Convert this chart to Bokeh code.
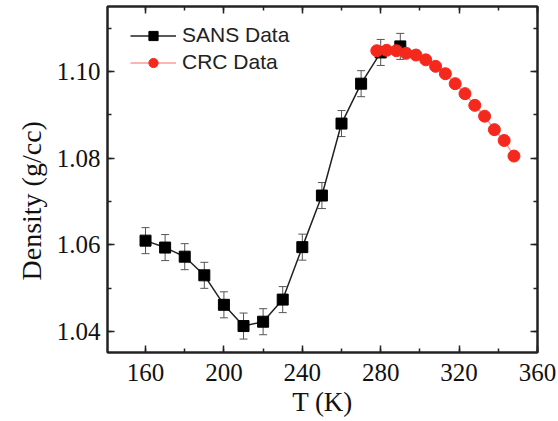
from bokeh.plotting import figure
from bokeh.models import (Range1d, SingleIntervalTicker, NumeralTickFormatter, LinearAxis,
                          Whisker, ColumnDataSource, TeeHead, Legend, Title,
                          CustomLabelingPolicy)
from bokeh.embed import file_html
from bokeh.resources import INLINE

# SANS data
sans_T = [160, 170, 180, 190, 200, 210, 220, 230, 240, 250, 260, 270, 280, 290]
sans_rho = [1.0610, 1.0594, 1.0573, 1.0530, 1.0462, 1.0413, 1.0423, 1.0474, 1.0595,
            1.0714, 1.0880, 1.0972, 1.1044, 1.1058]
sans_err = [0.0030] * 14

# CRC data
crc_T = [278, 283, 288, 293, 298, 303, 308, 313, 318, 323, 328, 333, 338, 343, 348]
crc_rho = [1.1048, 1.1049, 1.1048, 1.1042, 1.1038, 1.1027, 1.1012, 1.0995, 1.0972,
           1.0949, 1.0922, 1.0897, 1.0866, 1.0841, 1.0805]

x_label = "T (K)"
y_label = "Density (g/cc)"

SERIF = "Liberation Serif"
SANS = "Liberation Sans"
RED = "#f5281e"
AX = "#222222"

W, H = 558, 421
p = figure(width=W, height=H, output_backend="svg", toolbar_location=None,
           x_range=Range1d(140.6, 360), y_range=Range1d(1.0352, 1.115),
           min_border_left=107, min_border_right=21, min_border_top=6,
           min_border_bottom=69)
p.grid.visible = False
p.background_fill_color = "white"
p.border_fill_color = "white"
p.outline_line_color = AX
p.outline_line_width = 2

p.xaxis.ticker = SingleIntervalTicker(interval=40, num_minor_ticks=2)
p.yaxis.ticker = SingleIntervalTicker(interval=0.02, num_minor_ticks=2)
p.yaxis.formatter = NumeralTickFormatter(format="0.00")


def style_axis(ax):
    ax.axis_line_width = 2
    ax.axis_line_color = AX
    ax.major_tick_in = 7
    ax.major_tick_out = 0
    ax.minor_tick_in = 4
    ax.minor_tick_out = 0
    ax.major_tick_line_width = 1.5
    ax.minor_tick_line_width = 1.5
    ax.major_tick_line_color = AX
    ax.minor_tick_line_color = AX


for ax in [p.xaxis[0], p.yaxis[0]]:
    style_axis(ax)
    ax.major_label_text_font = SERIF
    ax.major_label_text_font_size = "25px"
    ax.major_label_text_color = "#111111"

p.xaxis.major_label_standoff = 11
p.yaxis.major_label_standoff = 7

p.xaxis.axis_label = x_label
p.xaxis.axis_label_text_font = SERIF
p.xaxis.axis_label_text_font_size = "27px"
p.xaxis.axis_label_text_font_style = "normal"
p.xaxis.axis_label_text_color = "#111111"
p.xaxis.axis_label_standoff = 3


# mirrored axes (ticks only)
def hide_all():
    return CustomLabelingPolicy(code="for (const i of indices) { indices.unset(i) } return indices")


top = LinearAxis(ticker=SingleIntervalTicker(interval=40, num_minor_ticks=2),
                 major_label_policy=hide_all(), major_label_standoff=0,
                 major_label_text_font_size="1px")
right = LinearAxis(ticker=SingleIntervalTicker(interval=0.02, num_minor_ticks=2),
                   major_label_policy=hide_all(), major_label_standoff=0,
                   major_label_text_font_size="1px")
for ax in [top, right]:
    style_axis(ax)
p.add_layout(top, "above")
p.add_layout(right, "right")

# y title, placed lower than centre as in the reference
ytitle = Title(text=y_label, align="left", offset=72, standoff=14,
               text_font=SERIF, text_font_size="28px", text_font_style="normal",
               text_color="#111111")
p.add_layout(ytitle, "left")

src = ColumnDataSource(dict(T=sans_T, rho=sans_rho,
                            lo=[r - e for r, e in zip(sans_rho, sans_err)],
                            hi=[r + e for r, e in zip(sans_rho, sans_err)]))
crc = ColumnDataSource(dict(T=crc_T, rho=crc_rho))

l1 = p.line("T", "rho", source=src, line_color=AX, line_width=1.5)
m1 = p.scatter("T", "rho", source=src, marker="square", size=11,
               fill_color="black", line_color="black")
l2 = p.line("T", "rho", source=crc, line_color=RED, line_alpha=0.45, line_width=1.5)
m2 = p.scatter("T", "rho", source=crc, marker="circle", size=12,
               fill_color=RED, line_color=RED)

w = Whisker(source=src, base="T", lower="lo", upper="hi", line_color="#555555",
            line_width=1,
            upper_head=TeeHead(size=8, line_color="#555555", line_width=1),
            lower_head=TeeHead(size=8, line_color="#555555", line_width=1))
p.add_layout(w)

legend = Legend(items=[("SANS Data", [l1, m1]), ("CRC Data", [l2, m2])],
                location=(23, 346 - 56 - 12))
legend.border_line_color = None
legend.background_fill_alpha = 0
legend.label_text_font = SANS
legend.label_text_font_size = "21px"
legend.label_text_color = "#222222"
legend.glyph_width = 46
legend.glyph_height = 23
legend.label_height = 23
legend.spacing = 3
legend.padding = 0
legend.margin = 0
legend.label_standoff = 6
p.add_layout(legend)

open("out.html", "w").write(file_html(p, INLINE))
